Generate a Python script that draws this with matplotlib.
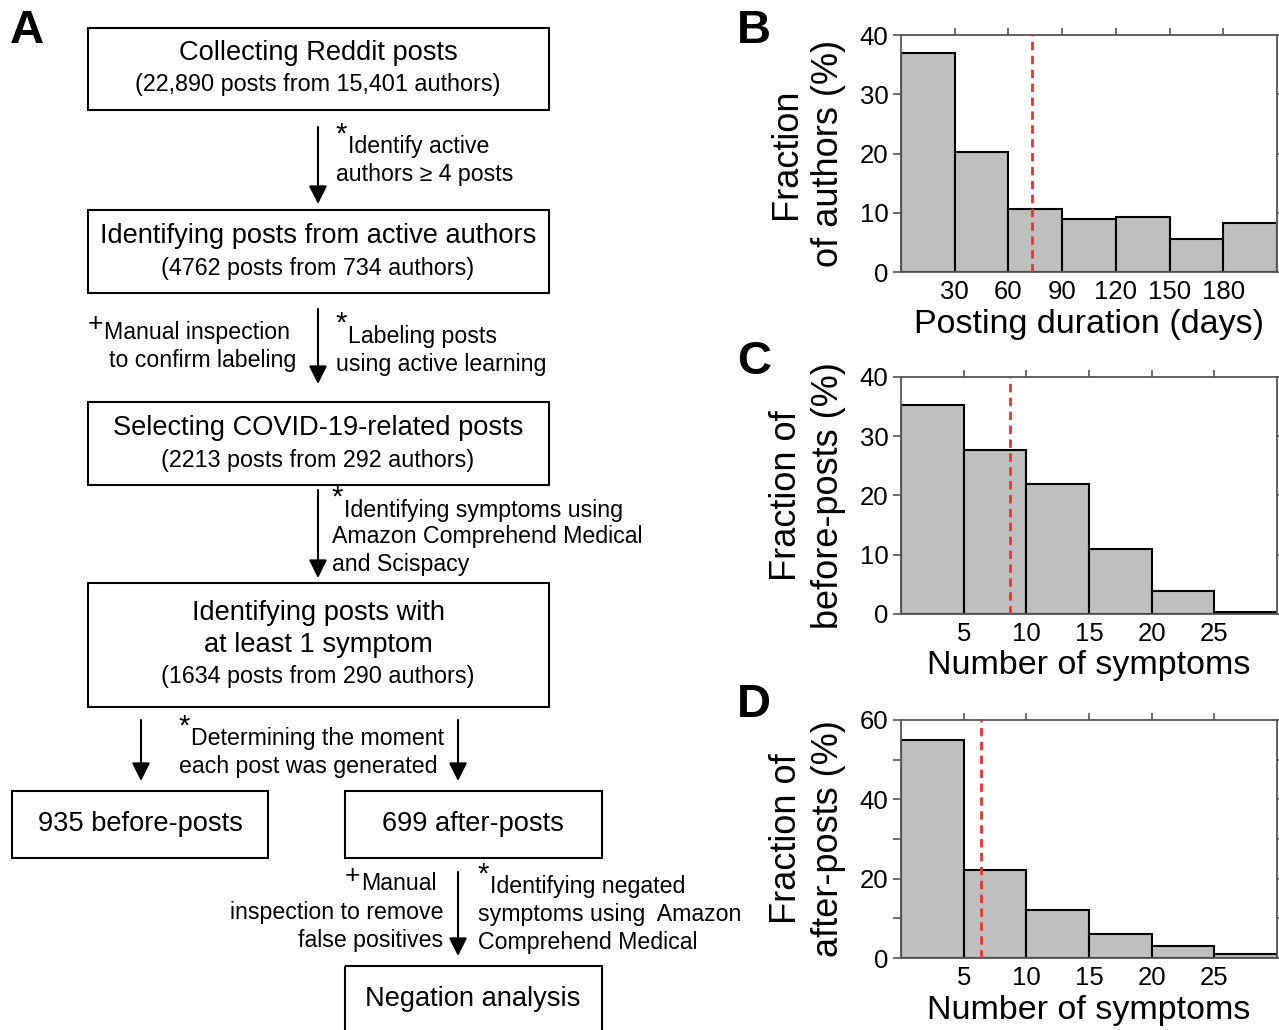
import matplotlib
matplotlib.use("Agg")
from matplotlib import pyplot as plt
from matplotlib.patches import Rectangle
import numpy as np

plt.rcParams['font.family'] = ['Liberation Sans', 'DejaVu Sans']

# panel B: posting duration (days)
dur_edges = [0, 30, 60, 90, 120, 150, 180, 210]
dur_frac = [37.0, 20.3, 10.7, 9.0, 9.3, 5.5, 8.3]
dur_mean = 73

# panel C: symptoms per before-post
sym_edges = [0, 5, 10, 15, 20, 25, 30]
before_frac = [35.2, 27.6, 22.0, 11.0, 3.8, 0.3]
before_mean = 8.7

# panel D: symptoms per after-post
after_frac = [55.0, 22.3, 12.0, 6.0, 3.0, 1.0]
after_mean = 6.4

W, H = 1279, 1030
fig = plt.figure(figsize=(W / 100, H / 100), dpi=100)

# ---------- panel A: flowchart, drawn in pixel coords ----------
ax0 = fig.add_axes([0, 0, 1, 1])
ax0.set_xlim(0, W)
ax0.set_ylim(H, 0)
ax0.axis('off')

BIG = 19.6
SMALL = 16.8
NOTE = 16.7
MARK = 21


def box(x0, y0, x1, y1):
    ax0.add_patch(Rectangle((x0, y0), x1 - x0, y1 - y0, fill=False,
                            edgecolor='black', lw=1.5, clip_on=False))


def arrow(x, y0, y1):
    ax0.annotate('', xy=(x, y1), xytext=(x, y0),
                 arrowprops=dict(arrowstyle='-|>,head_width=0.55,head_length=1.1',
                                 color='black', lw=1.5, shrinkA=0, shrinkB=0))


def txt(x, y, s, ha='left', size=NOTE):
    ax0.text(x, y, s, fontsize=size, ha=ha, va='center')


def mark(x, y, m):
    ax0.text(x, y, m, fontsize=MARK if m == '*' else 19, ha='center', va='center')


# boxes
box(88, 28, 549, 110)
txt(318, 53, 'Collecting Reddit posts', 'center', BIG)
txt(318, 85, '(22,890 posts from 15,401 authors)', 'center', SMALL)

box(88, 210, 549, 293)
txt(318, 236, 'Identifying posts from active authors', 'center', BIG)
txt(318, 268, '(4762 posts from 734 authors)', 'center', SMALL)

box(88, 402, 549, 485)
txt(318, 428, 'Selecting COVID-19-related posts', 'center', BIG)
txt(318, 460, '(2213 posts from 292 authors)', 'center', SMALL)

box(88, 583, 549, 707)
txt(318, 613, 'Identifying posts with', 'center', BIG)
txt(318, 645, 'at least 1 symptom', 'center', BIG)
txt(318, 677, '(1634 posts from 290 authors)', 'center', SMALL)

box(12, 791, 268, 858)
txt(140, 824, '935 before-posts', 'center', BIG)
box(345, 791, 602, 858)
txt(473, 824, '699 after-posts', 'center', BIG)
box(345, 966, 602, 1040)
txt(473, 999, 'Negation analysis', 'center', BIG)

# arrows
arrow(318, 127, 204)
arrow(318, 309, 384)
arrow(318, 490, 578)
arrow(141, 720, 781)
arrow(458, 720, 781)
arrow(458, 872, 956)

# step annotations
mark(341, 135, '*')
txt(348, 147, 'Identify active')
txt(336, 175, 'authors \u2265 4 posts')

mark(95, 324, '+')
txt(104, 332, 'Manual inspection')
txt(296, 360, 'to confirm labeling', 'right')
mark(341, 324, '*')
txt(348, 336, 'Labeling posts')
txt(336, 364, 'using active learning')

mark(337, 498, '*')
txt(344, 510, 'Identifying symptoms using')
txt(332, 537, 'Amazon Comprehend Medical')
txt(332, 565, 'and Scispacy')

mark(184, 727, '*')
txt(191, 739, 'Determining the moment')
txt(179, 767, 'each post was generated')

mark(352, 876, '+')
txt(361, 884, 'Manual')
txt(443, 912, 'inspection to remove', 'right')
txt(443, 940, 'false positives', 'right')
mark(483, 875, '*')
txt(490, 887, 'Identifying negated')
txt(478, 915, 'symptoms using  Amazon')
txt(478, 943, 'Comprehend Medical')

# panel letters
for lab, x, y in [('A', 27, 31), ('B', 754, 31), ('C', 754, 362), ('D', 754, 705)]:
    ax0.text(x, y, lab, fontsize=34, fontweight='bold', ha='center', va='center')


# ---------- panels B-D: histograms ----------
def hist_panel(rect, edges, vals, mean, ylim, yticks, xticks, xlabel, ylabel, minor=None):
    ax = fig.add_axes(rect)
    ax.bar(edges[:-1], vals, width=np.diff(edges), align='edge',
           color='#bfbfbf', edgecolor='black', linewidth=1.5, zorder=2)
    ax.axvline(mean, color='#f03030', ls=(0, (3, 2)), lw=2, zorder=3)
    ax.set_xlim(edges[0], edges[-1])
    ax.set_ylim(*ylim)
    ax.set_yticks(yticks)
    if minor is not None:
        ax.set_yticks(minor, minor=True)
    ax.set_xticks(xticks)
    for s in ax.spines.values():
        s.set_color('#555555')
        s.set_linewidth(1.3)
    ax.tick_params(axis='y', which='both', direction='out', length=6, width=1.2,
                   left=True, right=True, labelsize=18.5, pad=3, color='#555555')
    ax.tick_params(axis='x', direction='out', length=5, width=1.2, top=True,
                   bottom=False, labelsize=18.5, pad=1, color='#555555')
    ax.set_xlabel(xlabel, fontsize=24.5, labelpad=3)
    ax.set_ylabel(ylabel, fontsize=26, labelpad=10, linespacing=1.25)
    return ax


hist_panel([0.7045, 0.7359, 0.294, 0.2301], dur_edges, dur_frac, dur_mean,
           (0, 40), [0, 10, 20, 30, 40], [30, 60, 90, 120, 150, 180],
           'Posting duration (days)', 'Fraction\nof authors (%)')
hist_panel([0.7045, 0.4039, 0.294, 0.2301], sym_edges, before_frac, before_mean,
           (0, 40), [0, 10, 20, 30, 40], [5, 10, 15, 20, 25],
           'Number of symptoms', 'Fraction of\nbefore-posts (%)')
hist_panel([0.7045, 0.0699, 0.294, 0.2311], sym_edges, after_frac, after_mean,
           (0, 60), [0, 20, 40, 60], [5, 10, 15, 20, 25],
           'Number of symptoms', 'Fraction of\nafter-posts (%)', minor=[10, 30, 50])

fig.savefig('out.png', dpi=100)
